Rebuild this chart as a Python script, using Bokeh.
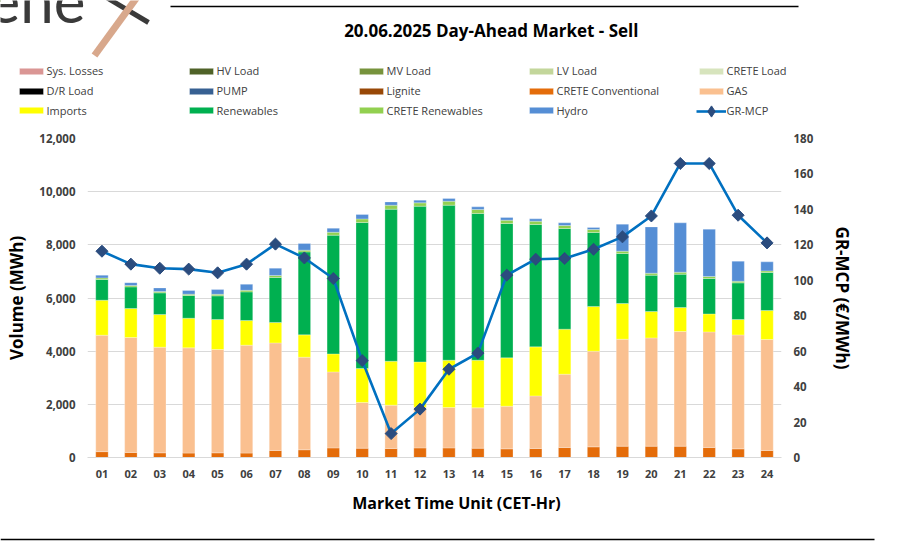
import numpy as np
from bokeh.plotting import figure
from bokeh.layouts import column
from bokeh.models import (ColumnDataSource, FactorRange, Range1d, LinearAxis, FixedTicker,
                          NumeralTickFormatter, Legend, LegendItem)
from bokeh.embed import file_html
from bokeh.resources import INLINE
from bokeh.core.properties import value

# ---------------- data ----------------
hours = ["01", "02", "03", "04", "05", "06", "07", "08", "09", "10", "11", "12",
         "13", "14", "15", "16", "17", "18", "19", "20", "21", "22", "23", "24"]

sys_losses = [0] * 24
hv_load = [0] * 24
mv_load = [0] * 24
lv_load = [0] * 24
crete_load = [0] * 24
dr_load = [0] * 24
pump = [0] * 24
lignite = [0] * 24
crete_conventional = [220, 190, 175, 165, 175, 165, 265, 290, 360, 350, 340, 360,
                      360, 350, 325, 340, 375, 400, 425, 425, 425, 375, 325, 265]
gas = [4380, 4324, 3975, 3959, 3887, 4060, 4046, 3483, 2860, 1719, 1628, 1532,
       1520, 1517, 1605, 1978, 2759, 3599, 4025, 4075, 4315, 4350, 4287, 4174]
imports = [1318, 1091, 1230, 1116, 1130, 929, 768, 840, 678, 1279, 1655, 1705,
           1780, 1793, 1818, 1844, 1693, 1682, 1343, 993, 903, 677, 580, 1091]
renewables = [778, 813, 813, 854, 888, 1076, 1693, 3122, 4465, 5493, 5718, 5857,
              5832, 5520, 5055, 4603, 3787, 2783, 1881, 1365, 1253, 1331, 1377, 1430]
crete_renewables = [60, 50, 50, 50, 60, 60, 75, 65, 110, 135, 150, 125,
                    150, 150, 125, 125, 113, 113, 87, 75, 75, 76, 63, 60]
hydro = [100, 110, 136, 139, 177, 226, 275, 251, 150, 165, 124, 102,
         101, 98, 101, 87, 100, 75, 1016, 1742, 1856, 1780, 753, 339]
gr_mcp = [116.4, 109.1, 106.8, 106.3, 104.2, 109.1, 120.4, 112.6, 101.0, 54.7, 13.5, 27.3,
          49.8, 58.9, 102.9, 111.9, 112.3, 117.5, 124.5, 136.3, 165.9, 165.9, 136.7, 121.1]

series_labels = ["Sys. Losses", "HV Load", "MV Load", "LV Load", "CRETE Load", "D/R Load",
                 "PUMP", "Lignite", "CRETE Conventional", "GAS", "Imports", "Renewables",
                 "CRETE Renewables", "Hydro"]
series_keys = ["sys_losses", "hv_load", "mv_load", "lv_load", "crete_load", "dr_load",
               "pump", "lignite", "crete_conv", "gas", "imports", "renewables",
               "crete_ren", "hydro"]
series_colors = ["#DA9694", "#4F6228", "#77933C", "#C3D69B", "#D7E4BD", "#000000",
                 "#376092", "#984807", "#E46C0A", "#FAC090", "#FFFF00", "#00B050",
                 "#92D050", "#558ED5"]

left_ticks = [0, 2000, 4000, 6000, 8000, 10000, 12000]
right_ticks = [0, 20, 40, 60, 80, 100, 120, 140, 160, 180]

title_text = "20.06.2025  Day-Ahead Market - Sell"
x_title = "Market Time Unit (CET-Hr)"
y_title = "Volume (MWh)"
y2_title = "GR-MCP (€/MWh)"
logo_text = "ene"

FONT = "Open Sans"
LINE_COLOR = "#0070C0"
MARK_COLOR = "#2B4C7E"
W = 903
H_HEAD, H_MAIN, H_FOOT = 125, 362, 57


def blank(h):
    f = figure(width=W, height=h, x_range=Range1d(0, W), y_range=Range1d(h, 0),
               output_backend="svg", toolbar_location=None, x_axis_location=None,
               y_axis_location=None, min_border=0, min_border_left=0, min_border_right=0,
               min_border_top=0, min_border_bottom=0)
    f.grid.grid_line_color = None
    f.outline_line_color = None
    f.frame_align = False
    return f


# ---------------- header: logo, title, legend ----------------
head = blank(H_HEAD)
head.text(x=[-12], y=[-1], text=[logo_text], text_font=value("Lato"), text_font_size="60px",
          text_color="#3A3A3A", text_baseline="alphabetic", text_align="left")
head.segment(x0=[106], y0=[-3], x1=[148], y1=[22], line_color="#3A3A3A", line_width=5)
head.segment(x0=[137], y0=[-4], x1=[94], y1=[55], line_color="#D8A88C", line_width=7)
head.segment(x0=[170], y0=[6], x1=[798], y1=[6], line_color="#000000", line_width=1.5)
head.text(x=[493], y=[30], text=[title_text], text_font=value(FONT), text_font_style="bold",
          text_font_size="17px", text_color="#000000", text_align="center",
          text_baseline="middle")

# legend sample glyphs (placed outside the visible range; only their swatches show)
legend_renderers = {}
for lab, col in zip(series_labels, series_colors):
    legend_renderers[lab] = [head.vbar(x=[-1000], top=[1], bottom=[0], width=1, fill_color=col,
                                       line_color="#FFFFFF", line_alpha=0.35)]
legend_renderers["GR-MCP"] = [
    head.line(x=[-1000, -999], y=[0, 0], line_color=LINE_COLOR, line_width=2.6),
    head.scatter(x=[-1000], y=[0], marker="diamond", size=8.5,
                 fill_color=MARK_COLOR, line_color=MARK_COLOR)]


def add_legend(labels, x, bottom, gh):
    items = [LegendItem(label=lab, renderers=legend_renderers[lab]) for lab in labels]
    lg = Legend(items=items, orientation="horizontal", location=(x, H_HEAD - bottom),
                glyph_width=30, glyph_height=gh, label_standoff=1, label_width=139,
                label_height=14, spacing=0, padding=0, margin=0,
                border_line_color=None, background_fill_alpha=0,
                label_text_font=FONT, label_text_font_size="11px",
                label_text_color="#404040")
    head.add_layout(lg, "center")


add_legend(["Sys. Losses", "HV Load", "MV Load", "LV Load", "CRETE Load"], 15.5, 78, 8)
add_legend(["D/R Load", "PUMP", "Lignite", "CRETE Conventional", "GAS"], 15.5, 98, 8)
add_legend(["Imports", "Renewables", "CRETE Renewables", "Hydro"], 15.5, 117.5, 8)
add_legend(["GR-MCP"], 695.5, 124.5, 28)

# ---------------- main chart ----------------
src = ColumnDataSource(dict(
    hour=hours, sys_losses=sys_losses, hv_load=hv_load, mv_load=mv_load, lv_load=lv_load,
    crete_load=crete_load, dr_load=dr_load, pump=pump, lignite=lignite,
    crete_conv=crete_conventional, gas=gas, imports=imports, renewables=renewables,
    crete_ren=crete_renewables, hydro=hydro, mcp=gr_mcp))

p = figure(x_range=FactorRange(*hours), y_range=Range1d(0, 12000),
           width=W, height=H_MAIN, output_backend="svg", toolbar_location=None,
           min_border_left=87, min_border_right=122, min_border_top=13, min_border_bottom=30)
p.extra_y_ranges = {"mcp": Range1d(0, 180)}
p.outline_line_color = None
p.frame_align = False

p.vbar_stack(series_keys, x="hour", width=0.43, source=src,
             fill_color=series_colors, line_color="#FFFFFF", line_alpha=0.35, line_width=0.8)
p.line(x="hour", y="mcp", source=src, y_range_name="mcp", line_color=LINE_COLOR, line_width=2.6)
p.scatter(x="hour", y="mcp", source=src, y_range_name="mcp", marker="square",
          angle=np.pi / 4, size=8.5, fill_color=MARK_COLOR, line_color=MARK_COLOR)

p.xgrid.grid_line_color = None
p.ygrid.grid_line_color = "#D9D9D9"
p.ygrid.grid_line_width = 1

xa = p.xaxis[0]
xa.axis_line_color = "#D9D9D9"
xa.major_tick_line_color = None
xa.minor_tick_line_color = None
xa.major_tick_out = 0
xa.major_tick_in = 0
xa.major_label_standoff = 12
xa.major_label_text_font = FONT
xa.major_label_text_font_style = "bold"
xa.major_label_text_font_size = "11px"
xa.major_label_text_color = "#404040"

ya = p.yaxis[0]
ya.ticker = FixedTicker(ticks=left_ticks)
ya.formatter = NumeralTickFormatter(format="0,0")
ya.axis_label = y_title

ra = LinearAxis(y_range_name="mcp", ticker=FixedTicker(ticks=right_ticks), axis_label=y2_title)
ra.axis_label_orientation = "vertical"
p.add_layout(ra, "right")

for ax, st, lst in ((ya, 12, 8), (ra, 12, 15)):
    ax.axis_line_color = None
    ax.major_tick_line_color = None
    ax.minor_tick_line_color = None
    ax.major_tick_out = 0
    ax.major_tick_in = 0
    ax.major_label_standoff = st
    ax.major_label_text_font = FONT
    ax.major_label_text_font_style = "bold"
    ax.major_label_text_font_size = "11.5px"
    ax.major_label_text_color = "#404040"
    ax.axis_label_standoff = lst
    ax.axis_label_text_font = FONT
    ax.axis_label_text_font_style = "bold"
    ax.axis_label_text_font_size = "17px"
    ax.axis_label_text_color = "#000000"

# ---------------- footer: x-axis title and rule ----------------
foot = blank(H_FOOT)
foot.text(x=[456], y=[15], text=[x_title], text_font=value(FONT), text_font_style="bold",
          text_font_size="16px", text_color="#000000", text_align="center",
          text_baseline="middle")
foot.segment(x0=[0], y0=[52], x1=[874], y1=[52], line_color="#000000", line_width=1.5)

layout = column(head, p, foot, spacing=0)
open("out.html", "w").write(file_html(layout, INLINE))
